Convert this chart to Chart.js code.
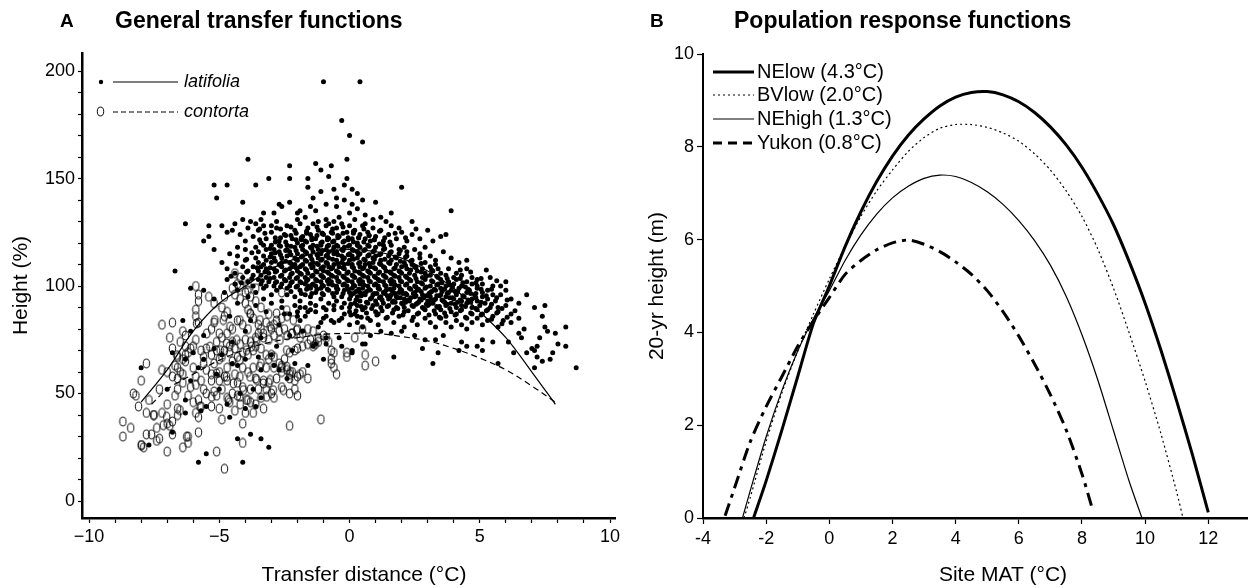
<!DOCTYPE html>
<html>
<head>
<meta charset="utf-8">
<script src="https://cdn.jsdelivr.net/npm/chart.js@4.4.1/dist/chart.umd.min.js"></script>
<style>
html, body { margin: 0; padding: 0; background: #fff; overflow: hidden; width: 1248px; height: 588px; }
#chartA { position: absolute; left: 0; top: 0; }
#chartB { position: absolute; left: 624px; top: 0; }
</style>
</head>
<body>
<canvas id="chartA" width="640" height="588"></canvas>
<canvas id="chartB" width="700" height="588"></canvas>
<script>
// ---- Panel A: general transfer functions (x = transfer distance, y = height %) ----
// points stored as flat x,y lists
const latifoliaOutliers = [-1.0,195, 0.4,195, -0.3,177, 0.0,170, 0.5,167, -0.1,159, -3.9,159, -2.3,156, -1.3,157, -0.7,156,
  -3.1,150, -2.3,150, -1.6,150, -0.8,151, -5.2,147, -4.7,147, -3.6,147, -5.1,141, -4.1,139, -2.7,138, -2.3,139, -6.3,129,
  -6.7,107, -5.6,121, 2.0,146, 3.9,135, 3.7,124, 1.0,139, 1.6,134, -0.2,147, 0.1,145, -1.1,154, -1.6,146, -0.1,150, 0.3,143,
  -0.6,145, -1.1,144];

const latifoliaUpper = [-4.1,131, -3.8,130, -4.4,129, -3.6,129, -2.6,137, -2.0,134, -1.9,135, -1.4,141, -1.3,135, -0.9,138,
  -0.5,141, -0.5,137, -0.2,140, 0.3,136, 0.6,133, 0.2,131, -0.9,131, -1.2,130, -1.7,132, -2.0,131, -3.4,131, -3.0,128, -2.8,130,
  -0.6,130, -0.4,132, 0.9,131, 1.2,132, 0.0,134, 0.1,138, -1.5,137, -2.9,134, -3.3,134, 1.4,130, 2.4,130, 0.5,140,
  -5.4,128, -4.9,128, -4.7,125, -5.4,123, -4.5,126, -4.2,124, -3.9,127, -3.7,123, -3.5,126, -3.2,122, -3.0,125, -2.8,127,
  -2.7,121, -2.5,124, -2.4,128, -2.2,122, -2.1,126, -1.9,129, -1.8,123, -1.7,121, -1.6,127, -1.5,124, -1.4,129, -1.3,122,
  -1.2,126, -1.1,120, -1.0,124, -0.9,128, -0.8,122, -0.7,125, -0.6,121, -0.5,127, -0.4,123, -0.3,129, -0.2,121, -0.1,125,
  0.0,128, 0.1,122, 0.2,126, 0.3,120, 0.4,124, 0.5,128, 0.6,122, 0.7,125, 0.8,121, 0.9,127, 1.0,123, 1.2,126, 1.3,121,
  1.5,124, 1.6,128, 1.8,122, 2.0,125, 2.2,121, 2.4,124, 2.7,122, 3.0,126, 3.2,121, 3.5,123, -3.3,128, -2.0,120, -0.8,129,
  0.6,129, 1.9,127, -4.0,121, -3.4,120,
  -3.45,121.5, -3.45,126.5, -3.25,124.5, -2.85,122.5, -2.65,126.5, -2.45,123.5, -2.25,127.5, -2.05,124.5, -1.85,121.5,
  -1.65,125.5, -1.45,122.5, -1.25,127.5, -1.05,124.5, -0.85,121.5, -0.65,126.5, -0.45,123.5, -0.25,127.5, -0.05,121.5,
  0.15,125.5, 0.35,122.5, 0.55,126.5, 0.75,123.5, 0.95,121.5, 1.15,125.5, 1.35,122.5, 1.75,124.5, 2.15,122.5, 2.55,126.5];

const latifoliaBand110 = [-3.6,113, -3.6,118, -3.5,111, -3.5,116, -3.3,114, -3.3,119, -3.3,110, -3.2,112, -3.2,117, -3.0,115,
  -3.0,111, -3.0,119, -2.9,113, -2.9,117, -2.7,110, -2.7,116, -2.7,119, -2.6,113, -2.6,111, -2.4,117, -2.4,114, -2.4,119,
  -2.3,111, -2.3,116, -2.1,113, -2.1,118, -2.1,110, -2.0,115, -2.0,112, -1.8,117, -1.8,110, -1.8,114, -1.8,119, -1.7,112,
  -1.7,116, -1.5,114, -1.5,118, -1.5,110, -1.4,111, -1.4,116, -1.4,119, -1.2,113, -1.2,117, -1.2,110, -1.1,115, -1.1,112,
  -1.1,119, -0.9,111, -0.9,114, -0.9,117, -0.8,113, -0.8,119, -0.8,116, -0.6,110, -0.6,115, -0.6,118, -0.5,112, -0.5,116,
  -0.5,119, -0.3,114, -0.3,111, -0.3,117, -0.2,113, -0.2,118, -0.2,110, 0.0,112, 0.0,115, 0.0,119, 0.1,110, 0.1,114, 0.1,117,
  0.3,113, 0.3,116, 0.3,119, 0.4,111, 0.4,115, 0.4,118, 0.6,112, 0.6,117, 0.6,110, 0.7,114, 0.7,119, 0.9,111, 0.9,116,
  0.9,113, 1.0,118, 1.0,114, 1.2,110, 1.2,115, 1.2,112, 1.3,117, 1.3,119, 1.5,111, 1.5,114, 1.6,116, 1.6,112, 1.6,119,
  1.8,113, 1.8,110, 1.9,117, 1.9,115, 2.1,111, 2.1,118, 2.2,114, 2.2,116, 2.4,112, 2.4,110, 2.5,117, 2.7,113, 2.7,115,
  2.9,111, 2.9,118, 3.1,114, 3.3,112, 3.3,110, 3.6,116, 3.9,113, 4.2,111, 4.5,112, -4.0,117, -4.0,112, -4.3,118, -4.3,114,
  -4.6,115, -4.9,111, -5.2,117];

const latifoliaBand100 = [-4.7,103, -4.7,108, -4.4,101, -4.4,106, -4.1,104, -4.1,109, -3.9,102, -3.9,107, -3.7,100, -3.7,105,
  -3.7,109, -3.5,103, -3.5,107, -3.4,101, -3.4,105, -3.4,109, -3.2,104, -3.2,100, -3.2,108, -3.1,102, -3.1,106, -2.9,100,
  -2.9,104, -2.9,108, -2.8,102, -2.8,107, -2.6,105, -2.6,101, -2.6,109, -2.5,103, -2.5,107, -2.3,100, -2.3,104, -2.3,108,
  -2.2,102, -2.2,106, -2.2,109, -2.0,104, -2.0,100, -2.0,107, -1.9,102, -1.9,106, -1.9,109, -1.7,101, -1.7,104, -1.7,108,
  -1.6,103, -1.6,106, -1.6,100, -1.4,105, -1.4,101, -1.4,109, -1.3,103, -1.3,107, -1.3,100, -1.1,102, -1.1,105, -1.1,108,
  -1.0,100, -1.0,104, -1.0,107, -1.0,109, -0.8,101, -0.8,103, -0.8,106, -0.8,109, -0.7,102, -0.7,105, -0.7,108, -0.5,100,
  -0.5,104, -0.5,107, -0.4,102, -0.4,106, -0.4,109, -0.2,101, -0.2,104, -0.2,108, -0.1,103, -0.1,106, -0.1,100, 0.1,102,
  0.1,105, 0.1,109, 0.2,100, 0.2,104, 0.2,107, 0.4,101, 0.4,103, 0.4,106, 0.4,109, 0.5,102, 0.5,105, 0.5,108, 0.7,100,
  0.7,104, 0.7,107, 0.8,102, 0.8,106, 0.8,109, 1.0,101, 1.0,104, 1.0,108, 1.1,103, 1.1,106, 1.1,100, 1.3,102, 1.3,105,
  1.3,109, 1.4,100, 1.4,104, 1.4,107, 1.6,101, 1.6,103, 1.6,106, 1.7,102, 1.7,108, 1.7,105, 1.9,100, 1.9,104, 1.9,107,
  2.0,102, 2.0,106, 2.0,109, 2.2,101, 2.2,104, 2.2,108, 2.3,103, 2.3,106, 2.5,100, 2.5,105, 2.5,109, 2.6,102, 2.6,107,
  2.8,101, 2.8,104, 2.8,108, 2.9,103, 2.9,106, 3.1,100, 3.1,105, 3.1,109, 3.2,102, 3.2,107, 3.4,101, 3.4,104, 3.4,108,
  3.5,103, 3.5,106, 3.7,100, 3.7,105, 3.8,102, 3.8,108, 4.0,101, 4.0,104, 4.1,106, 4.1,103, 4.3,100, 4.3,105, 4.5,102,
  4.5,108, 4.7,101, 4.7,104, 4.9,103, 4.9,100, 5.1,101, 5.4,104, 5.5,100, 5.8,100, 6.0,102,
  -4.55,104.5, -4.35,110.5, -4.15,101.5, -3.95,106.5, -3.95,112.5, -3.75,103.5, -3.75,115.5, -3.55,108.5, -3.35,102.5,
  -3.25,106.5, 4.25,107.5, 4.65,106.5, 5.05,103.5, 5.25,107.5, 5.65,102.5];

const latifoliaBand90 = [-6.1,99, -5.6,98, -5.2,94, -4.8,97, -4.3,92, -4.3,98, -3.9,95, -3.6,91, -3.6,97, -3.3,94, -3.3,99,
  -3.0,92, -3.0,96, -2.8,98, -2.6,93, -2.6,90, -2.4,96, -2.4,99, -2.1,91, -2.1,95, -1.9,98, -1.9,93, -1.7,90, -1.7,96,
  -1.5,92, -1.5,99, -1.5,95, -1.3,97, -1.3,91, -1.1,94, -1.1,99, -1.0,90, -1.0,96, -0.8,92, -0.8,98, -0.6,95, -0.6,91,
  -0.5,97, -0.5,93, -0.5,99, -0.3,90, -0.3,95, -0.2,92, -0.2,98, 0.0,94, 0.0,97, 0.0,90, 0.1,99, 0.2,92, 0.3,95, 0.3,91,
  0.4,97, 0.4,93, 0.5,99, 0.6,90, 0.6,96, 0.7,92, 0.8,98, 0.8,94, 0.9,96, 0.9,91, 1.0,93, 1.1,99, 1.2,95, 1.2,90, 1.3,97,
  1.3,92, 1.4,98, 1.5,94, 1.5,91, 1.6,96, 1.7,99, 1.7,93, 1.8,90, 1.8,95, 1.9,97, 2.0,92, 2.0,98, 2.1,94, 2.1,90, 2.2,96,
  2.3,99, 2.3,93, 2.4,91, 2.5,95, 2.5,97, 2.6,92, 2.6,98, 2.7,94, 2.8,90, 2.8,96, 2.9,99, 3.0,93, 3.0,91, 3.1,95, 3.1,97,
  3.2,92, 3.3,98, 3.3,94, 3.4,90, 3.5,96, 3.5,99, 3.6,93, 3.7,91, 3.7,95, 3.8,97, 3.9,92, 3.9,98, 4.0,94, 4.1,90, 4.1,96,
  4.2,99, 4.3,93, 4.3,91, 4.4,95, 4.5,97, 4.5,92, 4.6,98, 4.7,94, 4.7,90, 4.8,96, 4.9,99, 4.9,93, 5.0,91, 5.1,95, 5.1,97,
  5.2,92, 5.3,98, 5.3,94, 5.4,90, 5.5,96, 5.6,93, 5.7,90, 5.8,96, 6.0,91, 6.0,98, 6.2,94, 6.5,92, 6.8,96, 7.1,90, 7.5,91,
  0.05,86.5, 0.05,91.5, 0.05,95.5, 0.25,88.5, 0.25,93.5, 0.25,97.5, 0.45,85.5, 0.45,90.5, 0.45,95.5, 0.65,87.5, 0.65,92.5,
  0.65,97.5, 0.85,89.5, 0.85,94.5, 1.05,86.5, 1.05,91.5, 1.05,96.5, 1.25,88.5, 1.25,93.5, 1.45,85.5, 1.45,90.5, 1.45,95.5,
  1.65,87.5, 1.65,92.5, 1.65,97.5, 1.85,89.5, 1.85,94.5, 2.05,86.5, 2.05,91.5, 2.05,96.5, 2.25,88.5, 2.25,93.5, 2.45,85.5,
  2.45,90.5, 2.45,96.5, 2.65,87.5, 2.65,92.5, 2.65,98.5, 2.85,89.5, 2.85,94.5, 3.05,86.5, 3.05,91.5, 3.05,96.5, 3.25,88.5,
  3.25,93.5, 3.25,98.5, 3.45,85.5, 3.45,90.5, 3.45,95.5, 3.65,87.5, 3.65,92.5, 3.65,98.5, 3.85,89.5, 3.85,94.5, 3.85,100.5,
  4.05,86.5, 4.05,91.5, 4.05,97.5, 4.25,88.5, 4.25,93.5, 4.25,103.5, 4.45,85.5, 4.45,90.5, 4.45,99.5, 4.65,87.5, 4.65,92.5,
  4.65,96.5, 4.85,89.5, 4.85,94.5, 4.85,101.5, 5.05,86.5, 5.05,92.5, 5.05,98.5, 5.25,88.5, 5.25,95.5, 5.45,84.5, 5.45,91.5,
  5.45,98.5, 5.65,87.5, 5.65,94.5, 5.85,82.5, 5.85,89.5, 6.05,85.5, 6.05,93.5, 6.35,88.5];

const latifoliaBand80 = [-4.6,86, -3.8,84, -3.2,88, -2.7,82, -2.3,87, -1.9,84, -1.5,89, -1.2,81, -0.9,86, -0.6,83, -0.6,89,
  -0.3,85, 0.0,88, 0.0,82, 0.3,86, 0.5,81, 0.5,89, 0.8,84, 1.1,87, 1.1,82, 1.4,85, 1.7,89, 1.7,83, 1.9,86, 2.1,81, 2.1,88,
  2.4,84, 2.6,87, 2.6,82, 2.9,85, 2.9,89, 3.1,83, 3.3,87, 3.3,81, 3.5,85, 3.5,89, 3.7,83, 3.7,86, 3.9,88, 3.9,81, 4.1,84,
  4.1,87, 4.3,82, 4.3,89, 4.5,85, 4.5,80, 4.7,87, 4.7,83, 4.9,89, 4.9,85, 5.1,82, 5.1,87, 5.3,84, 5.3,89, 5.5,86, 5.7,81,
  5.7,88, 5.9,84, 6.2,87, 6.2,83, 6.5,85, 6.7,80, 7.4,86, 7.5,81, 8.3,81, 7.6,79, -2.5,87, -2.0,86, -1.6,88, -1.0,85,
  -0.4,84, 0.2,87, 0.7,85, 1.0,88, -2.0,88, -1.7,86, -1.3,88, -0.9,89, -0.7,84, -0.2,87, 0.3,83, -1.1,83, -1.9,90];

// the solid core of the cloud, read between the rows above
const latifoliaCoreFill = [-3.05,103.5, -3.05,108.5, -3.05,113.5, -3.05,117.5,
  -2.85,101.5, -2.85,106.5, -2.85,111.5, -2.85,115.5, -2.85,120.5,
  -2.65,99.5, -2.65,104.5, -2.65,109.5, -2.65,114.5, -2.65,118.5, -2.65,122.5,
  -2.45,102.5, -2.45,107.5, -2.45,111.5, -2.45,116.5, -2.45,120.5,
  -2.25,97.5, -2.25,101.5, -2.25,105.5, -2.25,110.5, -2.25,114.5, -2.25,118.5, -2.25,123.5,
  -2.05,99.5, -2.05,103.5, -2.05,108.5, -2.05,112.5, -2.05,116.5, -2.05,121.5,
  -1.85,96.5, -1.85,101.5, -1.85,105.5, -1.85,109.5, -1.85,113.5, -1.85,118.5, -1.85,122.5,
  -1.65,98.5, -1.65,102.5, -1.65,107.5, -1.65,111.5, -1.65,115.5, -1.65,120.5, -1.65,124.5,
  -1.45,96.5, -1.45,100.5, -1.45,104.5, -1.45,108.5, -1.45,112.5, -1.45,117.5, -1.45,121.5,
  -1.25,98.5, -1.25,102.5, -1.25,106.5, -1.25,110.5, -1.25,114.5, -1.25,118.5, -1.25,123.5,
  -1.05,96.5, -1.05,100.5, -1.05,104.5, -1.05,108.5, -1.05,112.5, -1.05,116.5, -1.05,120.5, -1.05,124.5,
  -0.85,98.5, -0.85,102.5, -0.85,106.5, -0.85,110.5, -0.85,114.5, -0.85,118.5, -0.85,122.5,
  -0.65,96.5, -0.65,100.5, -0.65,104.5, -0.65,108.5, -0.65,112.5, -0.65,116.5, -0.65,120.5, -0.65,124.5,
  -0.45,98.5, -0.45,102.5, -0.45,106.5, -0.45,110.5, -0.45,114.5, -0.45,118.5, -0.45,122.5,
  -0.25,96.5, -0.25,100.5, -0.25,104.5, -0.25,108.5, -0.25,112.5, -0.25,116.5, -0.25,120.5, -0.25,124.5,
  -0.05,98.5, -0.05,102.5, -0.05,106.5, -0.05,110.5, -0.05,114.5, -0.05,118.5, -0.05,122.5,
  0.15,96.5, 0.15,100.5, 0.15,104.5, 0.15,108.5, 0.15,112.5, 0.15,116.5, 0.15,120.5, 0.15,124.5,
  0.35,98.5, 0.35,102.5, 0.35,106.5, 0.35,110.5, 0.35,114.5, 0.35,118.5, 0.35,122.5,
  0.55,96.5, 0.55,100.5, 0.55,104.5, 0.55,108.5, 0.55,112.5, 0.55,116.5, 0.55,120.5,
  0.75,98.5, 0.75,102.5, 0.75,106.5, 0.75,110.5, 0.75,114.5, 0.75,118.5, 0.75,123.5,
  0.95,96.5, 0.95,100.5, 0.95,104.5, 0.95,108.5, 0.95,112.5, 0.95,116.5, 0.95,121.5,
  1.15,94.5, 1.15,98.5, 1.15,102.5, 1.15,106.5, 1.15,110.5, 1.15,114.5, 1.15,119.5,
  1.35,96.5, 1.35,100.5, 1.35,104.5, 1.35,108.5, 1.35,112.5, 1.35,117.5,
  1.55,94.5, 1.55,98.5, 1.55,102.5, 1.55,106.5, 1.55,110.5, 1.55,115.5, 1.55,120.5,
  1.75,92.5, 1.75,96.5, 1.75,100.5, 1.75,104.5, 1.75,108.5, 1.75,113.5,
  1.95,94.5, 1.95,98.5, 1.95,102.5, 1.95,106.5, 1.95,111.5, 1.95,116.5,
  2.15,92.5, 2.15,96.5, 2.15,100.5, 2.15,104.5, 2.15,109.5, 2.15,113.5,
  2.35,94.5, 2.35,98.5, 2.35,102.5, 2.35,107.5, 2.35,111.5,
  2.55,91.5, 2.55,95.5, 2.55,99.5, 2.55,103.5, 2.55,108.5,
  2.75,93.5, 2.75,97.5, 2.75,101.5, 2.75,106.5, 2.75,110.5,
  2.95,91.5, 2.95,95.5, 2.95,99.5, 2.95,104.5, 3.15,93.5, 3.15,97.5, 3.15,102.5, 3.15,107.5,
  3.35,90.5, 3.35,95.5, 3.35,100.5, 3.35,104.5, 3.55,93.5, 3.55,97.5, 3.55,101.5,
  3.75,91.5, 3.75,96.5, 3.75,103.5, 3.95,94.5, 3.95,99.5, 4.15,92.5, 4.15,97.5, 4.35,95.5, 4.35,101.5,
  4.55,93.5, 4.55,98.5, 4.85,96.5];

const latifoliaLower = [7.9,78, 7.3,76, 7.2,72, 7.1,70, 7.0,71, 6.6,76, 6.5,78, 6.3,69, 6.1,74, 5.5,74, 5.1,75, 5.1,70,
  4.9,72, 4.5,72, 4.3,74, 4.2,70, 3.6,77, 3.3,75, 2.9,75, 2.8,71, 2.5,77, 2.0,79, 1.6,78, 1.2,79, 0.8,77, 0.5,73, 0.1,70,
  -0.4,76, -0.9,76, -1.3,73, -1.8,79, -2.3,77, -2.8,72, -3.4,76, -4.0,79, -4.5,74, -5.2,71, -5.6,77, -6.1,79, 8.3,72,
  7.8,69, 8.0,73, 7.4,65, 7.7,66, 7.2,67, 7.1,62, 8.7,62, 6.8,69, 3.4,69, 3.2,64, 5.7,64, 1.7,67, 0.6,73, -1.0,66,
  -2.1,64, -2.7,61, -3.5,67, -4.3,63, -4.9,68, -5.8,62, -6.3,66, -8.0,62, -6.0,69, -3.0,68, -1.6,63, -6.4,84, -6.8,69,
  -7.0,52, -7.7,26, -6.8,32, -5.8,18, -5.5,22, -4.1,18, -4.3,29, -3.1,25, -4.0,43, -3.6,44, -3.7,52, -4.2,50, -4.7,45,
  -4.6,39, -5.5,44, -5.7,42, -5.0,52, -6.3,47, -6.3,41, -6.1,56, -5.6,66, -5.1,59, -4.5,64, -4.0,66, -3.4,61, -2.9,63,
  -2.4,57, -3.4,48, -3.8,31, -3.4,29, -2.2,70, -1.4,72, -0.9,73, -0.3,72, 0.1,69];

const contortaPts = [-8.7,37, -8.7,30, -8.4,34, -8.0,26, -7.9,25, -7.8,31, -7.6,31, -7.4,28, -7.3,29, -7.0,23, -8.3,50,
  -8.2,49, -8.0,56, -8.1,44, -7.8,64, -7.8,41, -7.7,47, -7.5,40, -7.4,34, -7.2,61, -7.2,82, -6.9,76, -6.8,83, -7.3,52,
  -7.2,41, -7.0,45, -7.0,36, -6.8,37, -6.8,31, -6.9,35, -6.6,43, -6.6,40, -6.7,49, -6.6,52, -6.5,60, -6.6,57, -6.4,59,
  -6.8,58, -6.7,63, -6.4,66, -6.3,68, -6.2,69, -6.3,65, -6.4,79, -6.3,77, -6.2,30, -6.2,27, -6.4,25, -5.1,23, -4.8,15,
  -4.1,27, -4.1,36, -4.0,41, -3.7,41, -3.3,43, -3.8,46, -3.6,45, -2.3,35, -1.1,38, -1.6,57, -2.0,49, -2.3,50, -2.1,52,
  -1.8,60, -1.9,59, -2.0,58, -2.1,56, -2.3,57, -2.6,53, -2.6,63, -2.9,48, -3.0,50, -3.3,56, -3.6,57, -3.5,52, -3.9,47,
  -3.8,52, -4.1,53, -4.3,55, -4.7,56, -4.8,58, -5.0,56, -4.9,52, -4.7,48, -5.1,49, -5.2,51, -5.5,50, -5.6,52, -5.7,56,
  -5.3,59, -5.5,61, -5.2,64, -5.0,66, -4.9,67, -4.5,65, -4.3,67, -4.1,69, -3.9,68, -3.7,70, -3.6,72, -3.4,71, -3.2,68,
  -3.1,66, -3.0,68, -2.9,67, -2.7,64, -2.6,62, -2.4,61, -2.3,59, -2.2,60, -2.5,66, -2.3,69, -2.1,70, -2.0,71, -1.8,72,
  -1.6,73, -1.5,75, -1.4,72, -1.3,73, -1.2,74, -1.0,77, -0.9,76, -0.8,74, -0.7,70, -0.6,69, -0.7,66, -0.6,62, -0.5,59,
  -0.7,64, 0.2,76, -0.1,69, -0.1,67, 0.6,68, 0.6,63, 1.0,65, 0.5,80,
  -5.9,100, -5.8,96, -5.8,93, -5.9,89, -5.8,83, -5.9,86, -5.9,75, -6.0,72, -6.0,62, -5.9,58, -5.9,54, -5.8,47, -5.9,41,
  -5.8,39, -5.7,44, -5.8,32, -5.2,83, -5.3,80, -5.0,78, -5.1,74, -4.9,76, -4.8,70, -4.6,72, -4.5,74, -4.8,86, -4.7,88,
  -4.9,90, -5.2,92, -5.4,95, -4.8,95, -4.4,96, -4.5,99, -4.2,100, -4.0,97, -4.2,94, -4.0,92, -3.9,89, -3.8,87, -3.7,85,
  -3.5,82, -3.4,80, -3.2,83, -3.0,80, -3.5,78, -3.3,76, -3.1,75, -2.9,77, -2.7,79, -2.5,80, -2.4,77, -2.2,78, -2.0,80,
  -1.9,76, -1.8,78, -1.6,80, -1.4,79, -1.2,76, -2.8,84, -3.1,87, -3.4,90, -3.6,93, -3.8,95, -3.9,98, -4.2,104, -4.3,101,
  -3.6,99, -3.9,101, -2.6,85, -2.9,82, -2.4,86, -4.4,106, -2.6,97,
  -6.6,62, -6.6,67, -6.8,71, -7.0,60, -6.4,55, -6.2,49, -6.1,53, -6.0,46, -5.3,44, -5.0,43, -4.9,38, -4.4,42, -4.2,45,
  -4.6,46, -4.5,50, -4.3,49, -3.4,48, -3.2,52, -3.1,55, -2.8,57, -2.6,60, -2.9,62, -3.2,62, -3.4,64, -3.7,62, -3.9,60,
  -4.1,62, -4.4,59, -4.7,62, -5.0,60, -5.3,56, -5.6,64, -5.6,67, -5.3,68, -5.1,70, -4.6,69, -4.4,71, -4.2,73, -4.0,75,
  -3.8,74, -3.6,76, -3.9,80, -4.1,82, -4.3,84, -4.5,80, -4.7,78, -5.5,71, -5.7,70, -6.1,71, -6.3,72, -6.5,74,
  -6.63,67.9, -5.36,71.8, -5.48,78, -5.17,84.2, -5.87,82.6, -5.10,59.4, -4.21,57.8, -4.72,57.8, -4.46,54.7, -3.82,57.8,
  -3.56,56.3, -3.31,54.7, -3.05,56.3, -2.54,51.6, -2.28,60.1, -2.41,62.5, -2.22,78, -2.03,79.5, -4.08,51.6, -4.65,47,
  -5.29,48.5, -5.74,43.9, -6.51,42.3, -7.02,39.2, -7.53,40, -7.15,35.3, -6.25,29.9, -7.98,26, -4.21,48.5, -3.95,47,
  -3.18,48.5, -2.93,51.6, -3.44,62.5, -3.76,71.8, -3.56,74.9, -3.31,78, -3.05,81.1, -2.67,74.9, -2.41,70.2, -4.21,65.6,
  -3.95,70.2, -4.33,74.9, -4.72,73.3, -4.97,70.2, -4.59,81.1, -4.85,84.2, -4.21,84.2, -3.82,87.3, -3.44,84.2, -2.80,87.3,
  -2.41,88.8, -2.16,84.2];

// fitted transfer functions
const latifoliaCurveX = [-8, -7, -6, -5, -4, -3, -2, -1, 0, 1, 2, 3, 4, 5, 6, 7, 7.9];
const latifoliaCurveY = [46, 61, 79, 92, 100, 108, 113, 116, 117, 116, 113, 107, 99, 88, 76, 60, 45];
const contortaCurveX = [-7.6, -7, -6, -5, -4, -3, -2, -1, 0, 1, 2, 3, 4, 5, 6, 7, 7.9];
const contortaCurveY = [45, 52, 59, 65.5, 70.5, 74, 76, 77.5, 78, 78, 76.5, 74.5, 71, 66.5, 61, 53.5, 46];

const panelAXTicks = [-10, -5, 0, 5, 10];
const panelAYTicks = [0, 50, 100, 150, 200];

// ---- Panel B: population response functions (x = site MAT, y = 20-yr height) ----
const neLowX = [-2.4, -2, -1.5, -1, -0.5, 0, 0.5, 1, 1.5, 2, 2.5, 3, 3.5, 4, 4.5, 5, 5.5, 6, 6.5, 7, 7.5, 8, 8.5, 9, 9.5, 10, 10.5, 11, 11.5, 12];
const neLowY = [0, 0.8, 1.9, 3.05, 4.2, 5.0, 5.85, 6.6, 7.25, 7.8, 8.25, 8.6, 8.88, 9.07, 9.17, 9.19, 9.12, 8.97, 8.74, 8.43, 8.04, 7.56, 6.98, 6.32, 5.52, 4.63, 3.62, 2.52, 1.36, 0.12];
const bvLowX = [-2.7, -2.5, -2, -1.5, -1, -0.5, 0, 0.5, 1, 1.5, 2, 2.5, 3, 3.5, 4, 4.5, 5, 5.5, 6, 6.5, 7, 7.5, 8, 8.5, 9, 9.5, 10, 10.5, 11, 11.2];
const bvLowY = [0, 0.45, 1.65, 2.7, 3.6, 4.4, 5.15, 5.85, 6.5, 7.05, 7.5, 7.9, 8.2, 8.4, 8.48, 8.48, 8.42, 8.3, 8.12, 7.85, 7.5, 7.05, 6.5, 5.8, 4.95, 3.98, 2.95, 1.82, 0.56, 0];
const neHighX = [-2.75, -2.5, -2, -1.5, -1, -0.5, 0, 0.5, 1, 1.5, 2, 2.5, 3, 3.5, 4, 4.5, 5, 5.5, 6, 6.5, 7, 7.5, 8, 8.5, 9, 9.5, 9.9];
const neHighY = [0, 0.6, 1.75, 2.75, 3.6, 4.3, 4.9, 5.55, 6.1, 6.55, 6.9, 7.15, 7.32, 7.39, 7.36, 7.23, 7.03, 6.76, 6.41, 5.98, 5.45, 4.78, 3.95, 2.98, 1.88, 0.78, 0];
const yukonX = [-3.3, -3, -2.5, -2, -1.5, -1, -0.5, 0, 0.5, 1, 1.5, 2, 2.5, 3, 3.5, 4, 4.5, 5, 5.5, 6, 6.5, 7, 7.5, 8, 8.35];
const yukonY = [0.05, 0.65, 1.65, 2.4, 3.05, 3.7, 4.25, 4.75, 5.25, 5.55, 5.78, 5.93, 5.99, 5.9, 5.74, 5.52, 5.25, 4.9, 4.45, 3.92, 3.32, 2.66, 1.9, 0.95, 0.15];

const panelBXTicks = [-4, -2, 0, 2, 4, 6, 8, 10, 12, 14];
const panelBYTicks = [0, 2, 4, 6, 8, 10];
const populationLabels = ['NElow (4.3°C)', 'BVlow (2.0°C)', 'NEhigh (1.3°C)', 'Yukon (0.8°C)'];

const FONT = 'Arial, "Liberation Sans", Helvetica, sans-serif';
Chart.defaults.font.family = FONT;
Chart.defaults.color = '#000';
Chart.defaults.animation = false;

function pairs(flat) {
  const out = [];
  for (let i = 0; i < flat.length; i += 2) out.push({ x: flat[i], y: flat[i + 1] });
  return out;
}
function zip(xs, ys) {
  return xs.map((x, i) => ({ x: x, y: ys[i] }));
}

// open (unfilled) ellipse marker used for contorta
function ellipseMarker() {
  const c = document.createElement('canvas');
  c.width = 9; c.height = 11;
  const g = c.getContext('2d');
  g.strokeStyle = '#000';
  g.lineWidth = 1;
  g.beginPath();
  g.ellipse(4.5, 5.5, 3.2, 4.4, 0, 0, Math.PI * 2);
  g.stroke();
  return c;
}
const ellipseImg = ellipseMarker();

const latifoliaPts = [].concat(latifoliaOutliers, latifoliaUpper, latifoliaBand110, latifoliaBand100,
  latifoliaBand90, latifoliaBand80, latifoliaCoreFill, latifoliaLower);

// titles, x-axis caption and hand-drawn legend for panel A
const decorA = {
  id: 'decorA',
  afterDraw(chart) {
    const ctx = chart.ctx;
    ctx.save();
    ctx.fillStyle = '#000';
    ctx.strokeStyle = '#000';
    ctx.textBaseline = 'middle';
    ctx.font = 'bold 19px ' + FONT;
    ctx.fillText('A', 60, 22);
    ctx.font = 'bold 23px ' + FONT;
    ctx.fillText('General transfer functions', 115, 22);

    ctx.font = '21px ' + FONT;
    ctx.textAlign = 'center';
    ctx.fillText('Transfer distance (°C)', 364, 575);
    ctx.textAlign = 'left';

    // legend row 1: latifolia
    ctx.beginPath();
    ctx.arc(101, 82, 2.2, 0, Math.PI * 2);
    ctx.fill();
    ctx.lineWidth = 1.1;
    ctx.beginPath();
    ctx.moveTo(113, 82); ctx.lineTo(178, 82);
    ctx.stroke();
    ctx.font = 'italic 18px ' + FONT;
    ctx.fillText('latifolia', 184, 82);

    // legend row 2: contorta
    ctx.drawImage(ellipseImg, 96, 106);
    ctx.setLineDash([5, 3]);
    ctx.beginPath();
    ctx.moveTo(113, 112); ctx.lineTo(178, 112);
    ctx.stroke();
    ctx.setLineDash([]);
    ctx.fillText('contorta', 184, 112);
    ctx.restore();
  }
};

new Chart(document.getElementById('chartA'), {
  type: 'scatter',
  data: {
    datasets: [
      { label: 'latifolia fit', data: zip(latifoliaCurveX, latifoliaCurveY), showLine: true, borderColor: '#000',
        borderWidth: 1.2, pointRadius: 0, tension: 0.35, fill: false, order: 0 },
      { label: 'contorta fit', data: zip(contortaCurveX, contortaCurveY), showLine: true, borderColor: '#000',
        borderWidth: 1.2, borderDash: [6, 4], pointRadius: 0, tension: 0.35, fill: false, order: 0 },
      { label: 'contorta', data: pairs(contortaPts), pointStyle: ellipseImg, pointRadius: 4, order: 1 },
      { label: 'latifolia', data: pairs(latifoliaPts), pointStyle: 'circle', pointRadius: 2.5,
        backgroundColor: '#000', borderWidth: 0, order: 2 }
    ]
  },
  options: {
    responsive: false,
    events: [],
    layout: { padding: { left: 0, right: 25, top: 53, bottom: 0 } },
    plugins: { legend: { display: false }, tooltip: { enabled: false } },
    scales: {
      x: {
        type: 'linear', min: -10.27, max: 10.19,
        afterFit: s => { s.height = 70; },
        border: { display: true, color: '#000', width: 2.5 },
        grid: { drawOnChartArea: false, drawTicks: true, tickLength: 5, tickWidth: 1.2, tickColor: '#000' },
        ticks: {
          stepSize: 1, autoSkip: false, maxRotation: 0, includeBounds: false, padding: 3,
          font: { size: 18 },
          callback: v => panelAXTicks.includes(Math.round(v)) && Math.abs(v - Math.round(v)) < 1e-6
            ? String(Math.round(v)).replace('-', '\u2212') : ''
        },
        title: { display: false }
      },
      y: {
        type: 'linear', min: -7.9, max: 208.4,
        afterFit: s => { s.width = 82; },
        border: { display: true, color: '#000', width: 2.5 },
        grid: { drawOnChartArea: false, drawTicks: true, tickLength: 4, tickWidth: 1.2, tickColor: '#000' },
        ticks: {
          stepSize: 10, autoSkip: false, includeBounds: false, padding: 3,
          font: { size: 18 },
          callback: v => panelAYTicks.includes(Math.round(v)) && Math.abs(v - Math.round(v)) < 1e-6 ? String(Math.round(v)) : ''
        },
        title: { display: true, text: 'Height (%)', font: { size: 21 }, padding: { top: 9, bottom: 0 } }
      }
    }
  },
  plugins: [decorA]
});

// titles and legend for panel B
const legendStylesB = [
  { width: 3, dash: [] },
  { width: 1.2, dash: [2, 3] },
  { width: 1.2, dash: [] },
  { width: 3, dash: [9, 6] }
];
const decorB = {
  id: 'decorB',
  afterDraw(chart) {
    const ctx = chart.ctx;
    ctx.save();
    ctx.fillStyle = '#000';
    ctx.strokeStyle = '#000';
    ctx.textBaseline = 'middle';
    ctx.font = 'bold 19px ' + FONT;
    ctx.fillText('B', 26, 22);
    ctx.font = 'bold 23px ' + FONT;
    ctx.fillText('Population response functions', 110, 22);

    ctx.font = '20px ' + FONT;
    const rows = [72, 95, 119, 143];
    populationLabels.forEach((lab, i) => {
      const st = legendStylesB[i];
      ctx.lineWidth = st.width;
      ctx.setLineDash(st.dash);
      ctx.beginPath();
      ctx.moveTo(89, rows[i]); ctx.lineTo(130, rows[i]);
      ctx.stroke();
      ctx.setLineDash([]);
      ctx.fillText(lab, 133, rows[i]);
    });
    ctx.restore();
  }
};

function curve(label, xs, ys, width, dash) {
  return { label: label, data: zip(xs, ys), showLine: true, borderColor: '#000', borderWidth: width,
    borderDash: dash, pointRadius: 0, tension: 0.25, fill: false };
}

new Chart(document.getElementById('chartB'), {
  type: 'scatter',
  data: {
    datasets: [
      curve(populationLabels[0], neLowX, neLowY, 3, []),
      curve(populationLabels[1], bvLowX, bvLowY, 1.2, [2, 3]),
      curve(populationLabels[2], neHighX, neHighY, 1.2, []),
      curve(populationLabels[3], yukonX, yukonY, 3, [13, 6, 4, 6])
    ]
  },
  options: {
    responsive: false,
    events: [],
    layout: { padding: { left: 0, right: 21, top: 54, bottom: 0 } },
    plugins: { legend: { display: false }, tooltip: { enabled: false } },
    scales: {
      x: {
        type: 'linear', min: -4, max: 15,
        afterFit: s => { s.height = 70; },
        border: { display: true, color: '#000', width: 2.5 },
        grid: { drawOnChartArea: false, drawTicks: true, tickLength: 6, tickWidth: 1.2, tickColor: '#000' },
        ticks: {
          stepSize: 2, autoSkip: false, maxRotation: 0, includeBounds: false, padding: 4,
          font: { size: 18 },
          callback: v => panelBXTicks.includes(Math.round(v)) ? String(Math.round(v)) : ''
        },
        title: { display: true, text: 'Site MAT (°C)', font: { size: 21 }, padding: { top: 0, bottom: 0 } }
      },
      y: {
        type: 'linear', min: 0, max: 10,
        afterFit: s => { s.width = 79; },
        border: { display: true, color: '#000', width: 2 },
        grid: { drawOnChartArea: false, drawTicks: true, tickLength: 6, tickWidth: 1.2, tickColor: '#000' },
        ticks: {
          stepSize: 2, autoSkip: false, includeBounds: false, padding: 3,
          font: { size: 18 },
          callback: v => panelBYTicks.includes(Math.round(v)) ? String(Math.round(v)) : ''
        },
        title: { display: true, text: '20-yr height (m)', font: { size: 21 }, padding: { top: 21, bottom: 0 } }
      }
    }
  },
  plugins: [decorB]
});
</script>
</body>
</html>
